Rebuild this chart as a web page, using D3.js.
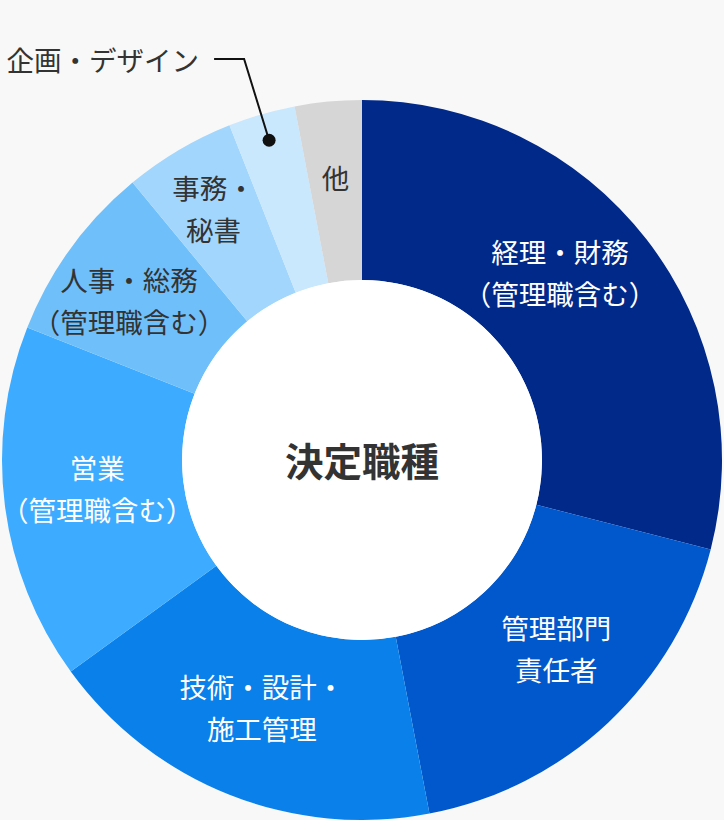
<!DOCTYPE html>
<html>
<head>
<meta charset="utf-8">
<script src="https://cdn.jsdelivr.net/npm/d3@7"></script>
<style>
  html, body { margin: 0; padding: 0; background: #f8f8f8; }
  svg { display: block; }
  text { font-family: "Noto Sans CJK JP", "Noto Sans", sans-serif; }
</style>
</head>
<body>
<svg id="chart" width="724" height="820"></svg>
<script>
// ---- data ----
const categories = [
  "経理・財務\n（管理職含む）",
  "管理部門\n責任者",
  "技術・設計・\n施工管理",
  "営業\n（管理職含む）",
  "人事・総務\n（管理職含む）",
  "事務・\n秘書",
  "企画・デザイン",
  "他"
];
const values = [29, 18, 18, 16, 8, 5, 3, 3];
const colors = ["#00298a", "#0058cc", "#0a80ea", "#3dabff", "#6fc0fa", "#a2d6fd", "#c9e7fd", "#d6d6d6"];
const labelColors = ["#fff", "#fff", "#fff", "#fff", "#333", "#333", "#333", "#333"];
const centerTitle = "決定職種";
const calloutIndex = 6;

// ---- layout ----
const W = 724, H = 820;
const cx = 362, cy = 460;
const outerR = 360, innerR = 180;
const labelR = 272;
const labelNudge = [[-17, -21], [8, -10], [0, -6], [5, -6], [-13, 0], [-10, -18], [0, 0], [-1, -12]];
const lineH = 42;
const labelSize = 27.5;

const svg = d3.select("#chart");
const g = svg.append("g").attr("transform", `translate(${cx},${cy})`);

const data = categories.map((c, i) => ({ name: c, value: values[i], i }));
const pie = d3.pie().value(d => d.value).sort(null).startAngle(0).endAngle(2 * Math.PI);
const arcs = pie(data);
const arc = d3.arc().innerRadius(innerR).outerRadius(outerR);
const labelArc = d3.arc().innerRadius(labelR).outerRadius(labelR);
const dotArc = d3.arc().innerRadius(333).outerRadius(333);

g.selectAll("path.slice").data(arcs).enter().append("path")
  .attr("class", "slice")
  .attr("d", arc)
  .attr("fill", d => colors[d.data.i]);

g.append("circle").attr("r", innerR).attr("fill", "#ffffff");

g.append("text")
  .attr("x", 0).attr("y", -1)
  .attr("text-anchor", "middle")
  .attr("dominant-baseline", "central")
  .attr("font-size", 38.5).attr("font-weight", 700)
  .attr("fill", "#333")
  .text(centerTitle);

// in-slice labels
arcs.forEach(d => {
  const i = d.data.i;
  if (i === calloutIndex) return;
  const [x, y] = labelArc.centroid(d);
  const lines = d.data.name.split("\n");
  const t = g.append("text")
    .attr("text-anchor", "middle")
    .attr("dominant-baseline", "central")
    .attr("font-size", labelSize)
    .attr("fill", labelColors[i]);
  lines.forEach((ln, k) => {
    t.append("tspan")
      .attr("x", x + labelNudge[i][0])
      .attr("y", y + labelNudge[i][1] + (k - (lines.length - 1) / 2) * lineH)
      .text(ln);
  });
});

// callout label
const cd = arcs[calloutIndex];
const [dx, dy] = dotArc.centroid(cd);
const elbowX = dx - 25, elbowY = -401;
g.append("polyline")
  .attr("points", `${elbowX - 30},${elbowY} ${elbowX},${elbowY} ${dx},${dy}`)
  .attr("fill", "none").attr("stroke", "#111").attr("stroke-width", 2);
g.append("circle").attr("cx", dx).attr("cy", dy).attr("r", 6.5).attr("fill", "#111");
g.append("text")
  .attr("x", elbowX - 45).attr("y", elbowY)
  .attr("text-anchor", "end")
  .attr("dominant-baseline", "central")
  .attr("font-size", labelSize)
  .attr("fill", "#333")
  .text(cd.data.name);
</script>
</body>
</html>
